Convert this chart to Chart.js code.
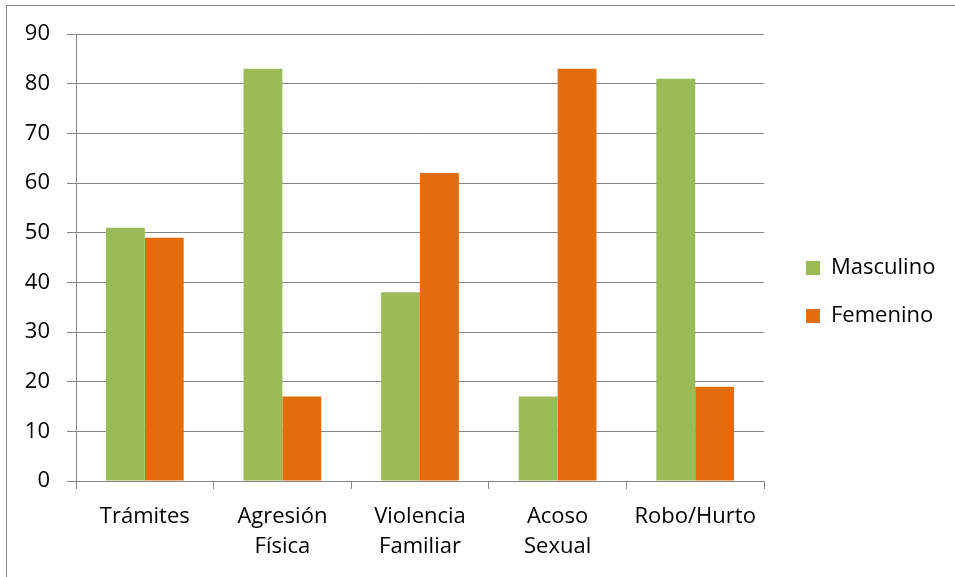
<!DOCTYPE html>
<html>
<head>
<meta charset="utf-8">
<script src="https://cdn.jsdelivr.net/npm/chart.js@4/dist/chart.umd.min.js"></script>
<style>
  html, body { margin: 0; padding: 0; background: #ffffff; }
  #wrap { position: relative; width: 955px; height: 577px; overflow: hidden; background: #fff; }
  #frame { position: absolute; left: 6px; top: 5px; width: 1000px; height: 1000px;
           border-left: 1px solid #868686; border-top: 1px solid #868686; }
  canvas { position: absolute; left: 0; top: 0; }
</style>
</head>
<body>
<div id="wrap">
  <div id="frame"></div>
  <canvas id="c" width="955" height="577"></canvas>
</div>
<script>
const categories = [["Trámites"], ["Agresión", "Física"], ["Violencia", "Familiar"], ["Acoso", "Sexual"], ["Robo/Hurto"]];
const masculino = [51, 83, 38, 17, 81];
const femenino = [49, 17, 62, 83, 19];
const seriesNames = ["Masculino", "Femenino"];
const yTicks = [0, 10, 20, 30, 40, 50, 60, 70, 80, 90];

const FONT = { family: "'Open Sans', 'Liberation Sans', sans-serif", size: 22, lineHeight: 1.4 };
const GRID = '#868686';

new Chart(document.getElementById('c'), {
  type: 'bar',
  data: {
    labels: categories,
    datasets: [
      { label: seriesNames[0], data: masculino, backgroundColor: '#9BBB59', borderWidth: 0 },
      { label: seriesNames[1], data: femenino, backgroundColor: '#E46C0A', borderWidth: 0 }
    ]
  },
  options: {
    responsive: false,
    animation: false,
    devicePixelRatio: 1,
    layout: { padding: { left: 0, top: 7, right: 19, bottom: 0 } },
    datasets: { bar: { categoryPercentage: 0.565, barPercentage: 1.0 } },
    plugins: {
      legend: {
        position: 'right',
        align: 'center',
        labels: {
          font: FONT,
          color: '#000',
          boxWidth: 14,
          boxHeight: 14,
          padding: 26
        }
      },
      tooltip: { enabled: false }
    },
    scales: {
      x: {
        type: 'category',
        offset: true,
        grid: { display: true, drawOnChartArea: false, drawTicks: true, tickLength: 8, offset: true, color: GRID, lineWidth: 1 },
        border: { display: true, color: GRID, width: 1 },
        ticks: { font: FONT, color: '#000', padding: 12, maxRotation: 0, autoSkip: false },
        afterFit: (s) => { s.height = 96; }
      },
      x2: {
        type: 'category',
        position: 'top',
        display: true,
        grid: { display: false, drawTicks: false },
        border: { display: false },
        ticks: { display: false },
        afterFit: (s) => { s.height = 27; }
      },
      y: {
        min: 0, max: 90,
        afterBuildTicks: (s) => { s.ticks = yTicks.map(v => ({ value: v })); },
        grid: { color: GRID, lineWidth: 1, tickLength: 9, drawTicks: true },
        border: { display: true, color: GRID, width: 1 },
        ticks: { font: FONT, color: '#000', padding: 17 },
        afterFit: (s) => { s.width = 76; }
      },
      y2: {
        position: 'right',
        display: true,
        grid: { display: false, drawTicks: false },
        border: { display: false },
        ticks: { display: false },
        afterFit: (s) => { s.width = 16; }
      }
    }
  }
});
</script>
</body>
</html>
